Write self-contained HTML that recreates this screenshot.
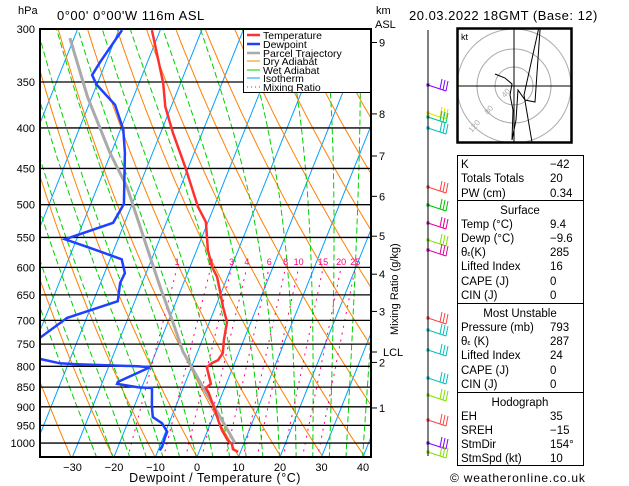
<!DOCTYPE html>
<html><head><meta charset="utf-8"><style>
body{margin:0;background:#fff;width:629px;height:486px;overflow:hidden;font-family:"Liberation Sans",sans-serif}
svg{position:absolute;left:0;top:0}
text{font-family:"Liberation Sans",sans-serif}
</style></head><body>
<svg id="c" width="629" height="486" viewBox="0 0 629 486">
<defs><clipPath id="pc"><rect x="40" y="29" width="331" height="428"/></clipPath>
<clipPath id="hc"><rect x="457" y="28" width="115" height="115"/></clipPath></defs>
<g id="bg" clip-path="url(#pc)"></g>
<g id="prof" clip-path="url(#pc)"></g>
<g id="axes"></g>
</svg>
<script>
const NS='http://www.w3.org/2000/svg';
// ---- data ----
const pressureLevels=[300,350,400,450,500,550,600,650,700,750,800,850,900,950,1000];
const xTicks=[-30,-20,-10,0,10,20,30,40];
const kmLabels=[1,2,3,4,5,6,7,8,9];
const kmPressure=[903,791,682,612,548,488,434,384,312];
const mixRatios=[1,2,3,4,6,8,10,15,20,25];
const tempP=[1026,1018,1003,992,963,935,908,865,852,842,802,792,786,770,741,703,673,641,617,599,571,526,503,448,406,376,351,301];
const tempT=[9.4,7.9,7.2,5.8,3.4,1.5,-0.2,-3.3,-4.5,-3.7,-6.3,-5.4,-4.3,-3.8,-4.8,-5.8,-8.2,-10.6,-12.5,-14.7,-17.3,-20.5,-23.9,-30.8,-37.0,-41.4,-44.2,-52.0];
const dewP=[1022,1010,983,968,944,927,900,852,850,842,837,802,800,795,793,783,760,739,695,662,628,610,586,567,553,527,499,430,402,374,353,343,330,301];
const dewT=[-9.6,-9.4,-9.6,-9.6,-11.7,-14.5,-15.7,-17.5,-21.0,-26.3,-26.3,-20.0,-23.0,-37.9,-42.1,-47.3,-60,-49.6,-44.7,-34.1,-35.3,-35.1,-37.2,-45.9,-52.8,-42.8,-42.0,-46.7,-49.3,-53.7,-60.0,-62.1,-61.4,-59.2];
const parcelP=[1000,903,850,802,767,705,635,582,475,430,366,308];
const parcelT=[7.8,-0.4,-5.3,-9.9,-13.5,-18.7,-25.3,-30.6,-42.9,-50.3,-61.0,-71.0];
// ---- axes ----
const Y=p=>29+343.9*Math.log(p/300);
const X=(t,p)=>197+4.15*t+0.4*(457-Y(p));
function el(tag,attrs,parent){const e=document.createElementNS(NS,tag);for(const k in attrs)e.setAttribute(k,attrs[k]);parent.appendChild(e);return e;}
const bg=document.getElementById('bg'),prof=document.getElementById('prof'),ax=document.getElementById('axes');
function poly(pts,style,parent){return el('polyline',Object.assign({points:pts.map(a=>a[0].toFixed(1)+','+a[1].toFixed(1)).join(' '),fill:'none'},style),parent);}
const pr=[];for(let p=1045;p>=295;p-=5)pr.push(p);
// isotherms
for(let t=-120;t<=50;t+=10){const l=poly([[X(t,1045),Y(1045)],[X(t,295),Y(295)]],{stroke:'#00a0ff','stroke-width':1},bg);

}
// dry adiabats
for(let th=240;th<=470;th+=10){const l=poly(pr.map(p=>[X(th*Math.pow(p/1000,0.286)-273.15,p),Y(p)]),{stroke:'#ff8000','stroke-width':1},bg);

}
// wet adiabats
function es(t){return 6.112*Math.exp(17.67*t/(t+243.5));}
for(let t0=-24;t0<=40;t0+=4){let T=t0+273.15,pts=[];for(let p=1045;p>=295;p-=1){if(p%5==0)pts.push([X(T-273.15,p),Y(p)]);
const e=es(T-273.15),rs=0.622*e/(p-e),Lv=2.5e6,Rd=287,cp=1005;
const dT=(Rd*T+Lv*rs)/(cp+Lv*Lv*rs*0.622/(Rd*T*T))/p;T-=dT;}
// start from 1000 reference: shift so curve passes t0 at 1000
const l=poly(pts,{stroke:'#00d000','stroke-width':1,'stroke-dasharray':'6,3'},bg);

}
// mixing ratio
function tdw(w,p){const e=w*p/(622+w),a=Math.log(e/6.112);return 243.5*a/(17.67-a);}
mixRatios.forEach(w=>{const l=poly([[X(tdw(w,1045),1045),Y(1045)],[X(tdw(w,600),600),Y(600)]],{stroke:'#ff0080','stroke-width':1,'stroke-dasharray':'2,5'},bg);


const tx=el('text',{x:X(tdw(w,600),600),y:265,'font-size':9,fill:'#ff0080','text-anchor':'middle'},bg);tx.textContent=w;

});
// pressure lines
pressureLevels.forEach(p=>{const l=el('line',{x1:40,x2:371,y1:Y(p),y2:Y(p),stroke:'#000','stroke-width':1.3},bg);


const t=el('text',{x:35,y:Y(p)+4,'font-size':11,'text-anchor':'end'},ax);t.textContent=p;

});
// profiles
const parcel=poly(parcelP.map((p,i)=>[X(parcelT[i],p),Y(p)]),{stroke:'#aaa','stroke-width':3},prof);


const dew=poly(dewP.map((p,i)=>[X(dewT[i],p),Y(p)]),{stroke:'#2040ff','stroke-width':2.5},prof);


const tmp=poly(tempP.map((p,i)=>[X(tempT[i],p),Y(p)]),{stroke:'#ff3030','stroke-width':2.5},prof);


// frame
el('rect',{x:40,y:29,width:331,height:428,fill:'none',stroke:'#000','stroke-width':2},ax);
xTicks.forEach(t=>{const tx=el('text',{x:197+4.15*t,y:471,'font-size':11,'text-anchor':'middle'},ax);tx.textContent=(t<0?'\u2212'+(-t):t);

});
kmLabels.forEach((k,i)=>{const y=Y(kmPressure[i]);el('line',{x1:371,x2:377,y1:y,y2:y,stroke:'#000'},ax);
const tx=el('text',{x:379,y:y+4,'font-size':11},ax);tx.textContent=k;

});
el('line',{x1:371,x2:377,y1:352,y2:352,stroke:'#000'},ax);
// barbs
const barbY=[85,113,117,128,187,205,223,240,250,318,330,350,378,395,420,443,452];
const barbC=['#8000ff','#e0e000','#00c080','#00c0c0','#ff4040','#00c000','#e000a0','#80e000','#e000a0','#ff4040','#00c0c0','#00c0c0','#00c0c0','#80e000','#ff4040','#8000ff','#80e000'];
barbY.forEach((y,i)=>{const g=el('g',{stroke:barbC[i],'stroke-width':1,fill:'none'},ax);


el('line',{x1:428,y1:y,x2:446,y2:y+6},g);for(let k=0;k<3;k++)el('line',{x1:446-k*3,y1:y+6-k,x2:448-k*3,y2:y-4-k},g);
el('rect',{x:426.5,y:y-1.5,width:3,height:3,fill:barbC[i],stroke:'none'},g);});
</script>
<svg width="629" height="486" style="pointer-events:none">
<text x="18" y="14" font-size="11">hPa</text>
<text x="57" y="20" font-size="13" letter-spacing="0.5">0°00'  0°00'W  116m  ASL</text>
<text x="376" y="14" font-size="11">km</text>
<text x="375" y="28" font-size="11">ASL</text>
<text x="383" y="356" font-size="11">LCL</text>
<text x="409" y="20" font-size="13" letter-spacing="0.5">20.03.2022  18GMT  (Base: 12)</text>
<text transform="translate(398,335) rotate(-90)" font-size="11">Mixing  Ratio  (g/kg)</text>
<text x="215" y="482" font-size="12.5" text-anchor="middle" letter-spacing="0.5">Dewpoint  /  Temperature  (°C)</text>
<line x1="428" y1="30" x2="428" y2="456" stroke="#000"/>
<g>
<rect x="243.5" y="29.5" width="127" height="63" fill="#fff" stroke="#000"/>
<g font-size="10.5">
<line x1="247" y1="35" x2="260" y2="35" stroke="#ff3030" stroke-width="2.5"/><text x="263" y="39">Temperature</text>
<line x1="247" y1="44" x2="260" y2="44" stroke="#2040ff" stroke-width="2.5"/><text x="263" y="48">Dewpoint</text>
<line x1="247" y1="53" x2="260" y2="53" stroke="#aaa" stroke-width="2.5"/><text x="263" y="57">Parcel Trajectory</text>
<line x1="247" y1="61" x2="260" y2="61" stroke="#ff8000"/><text x="263" y="65">Dry Adiabat</text>
<line x1="247" y1="70" x2="260" y2="70" stroke="#00d000"/><text x="263" y="74">Wet Adiabat</text>
<line x1="247" y1="78" x2="260" y2="78" stroke="#00a0ff"/><text x="263" y="82">Isotherm</text>
<line x1="247" y1="87" x2="260" y2="87" stroke="#ff0080" stroke-dasharray="1,3"/><text x="263" y="91">Mixing Ratio</text>
</g></g>
<g>
<g clip-path="url(#hc)" fill="none" stroke="#aaa">
<circle cx="514" cy="86" r="19"/><circle cx="514" cy="86" r="37"/><circle cx="514" cy="86" r="57"/>
<line x1="457" y1="86" x2="572" y2="86" stroke="#000"/><line x1="514" y1="28" x2="514" y2="143" stroke="#000"/>
<polyline points="495,74 505,78 512,84 510,95 513,110 512,140 516,120 518,90 525,100 535,102 540,30 541,18 524,95 533,148" stroke="#000"/>
</g>
<rect x="457.5" y="28.5" width="114" height="114" fill="none" stroke="#000" stroke-width="2.5"/>
<text x="461" y="40" font-size="9">kt</text>
<text x="505" y="98" font-size="8" fill="#aaa" transform="rotate(-50 505 98)">40</text>
<text x="488" y="115" font-size="8" fill="#aaa" transform="rotate(-50 488 115)">80</text>
<text x="472" y="133" font-size="8" fill="#aaa" transform="rotate(-50 472 133)">120</text>
</g>
<g font-size="11.5">
<rect x="457.5" y="155.5" width="126" height="45" fill="none" stroke="#000"/>
<rect x="457.5" y="200.5" width="126" height="103" fill="none" stroke="#000"/>
<rect x="457.5" y="303.5" width="126" height="89" fill="none" stroke="#000"/>
<rect x="457.5" y="392.5" width="126" height="73" fill="none" stroke="#000"/>
<text x="461" y="168">K</text><text x="550" y="168">−42</text>
<text x="461" y="182">Totals Totals</text><text x="550" y="182">20</text>
<text x="461" y="197">PW (cm)</text><text x="550" y="197">0.34</text>
<text x="520" y="214" text-anchor="middle">Surface</text>
<text x="461" y="228">Temp (°C)</text><text x="550" y="228">9.4</text>
<text x="461" y="242">Dewp (°C)</text><text x="550" y="242">−9.6</text>
<text x="461" y="256">θ<tspan font-size="7">ε</tspan>(K)</text><text x="550" y="256">285</text>
<text x="461" y="270">Lifted Index</text><text x="550" y="270">16</text>
<text x="461" y="285">CAPE (J)</text><text x="550" y="285">0</text>
<text x="461" y="299">CIN (J)</text><text x="550" y="299">0</text>
<text x="520" y="317" text-anchor="middle">Most Unstable</text>
<text x="461" y="331">Pressure (mb)</text><text x="550" y="331">793</text>
<text x="461" y="345">θ<tspan font-size="7">ε</tspan> (K)</text><text x="550" y="345">287</text>
<text x="461" y="359">Lifted Index</text><text x="550" y="359">24</text>
<text x="461" y="374">CAPE (J)</text><text x="550" y="374">0</text>
<text x="461" y="388">CIN (J)</text><text x="550" y="388">0</text>
<text x="520" y="406" text-anchor="middle">Hodograph</text>
<text x="461" y="420">EH</text><text x="550" y="420">35</text>
<text x="461" y="434">SREH</text><text x="550" y="434">−15</text>
<text x="461" y="448">StmDir</text><text x="550" y="448">154°</text>
<text x="461" y="462">StmSpd (kt)</text><text x="550" y="462">10</text>
</g>
<text x="450" y="482" font-size="12" letter-spacing="0.8">© weatheronline.co.uk</text>
</svg>
</body></html>
